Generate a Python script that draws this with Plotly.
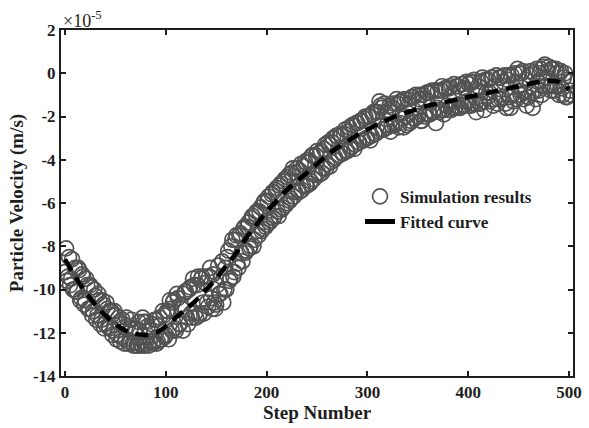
import plotly.graph_objects as go

# Simulation results (velocity in 1e-5 m/s)
# even steps 0, 2, ..., 502
sim_steps_even = list(range(0, 504, 2))
sim_velocity_even = [
    -9.2, -9.6, -8.5, -9.5, -10.0,
    -9.0, -10.1, -9.1, -10.4, -9.4,
    -10.5, -9.8, -10.9, -9.9, -11.0,
    -10.3, -11.2, -10.5, -11.4, -10.7,
    -11.6, -10.9, -11.8, -11.0, -11.9,
    -11.2, -12.1, -11.5, -12.2, -11.6,
    -12.3, -11.7, -12.4, -11.4, -12.6,
    -11.8, -12.6, -11.9, -12.6, -11.5,
    -12.5, -11.7, -12.4, -11.6, -12.4,
    -11.4, -12.4, -11.3, -12.3, -11.2,
    -12.1, -11.0, -10.5, -11.9, -10.5,
    -11.9, -10.4, -11.6, -10.9, -10.2,
    -10.1, -11.6, -9.9, -11.3, -9.8,
    -11.3, -9.4, -11.1, -9.4, -11.1,
    -9.4, -10.8, -9.0, -10.9, -10.6,
    -10.7, -8.9, -10.2, -8.7, -10.0,
    -10.0, -8.2, -9.5, -7.7, -9.2,
    -7.5, -9.0, -7.4, -8.7, -7.1,
    -8.2, -6.9, -8.0, -6.6, -7.7,
    -6.4, -7.5, -6.2, -7.2, -5.9,
    -7.0, -5.7, -6.8, -5.5, -6.6,
    -5.3, -6.6, -5.1, -6.2, -4.9,
    -6.0, -4.7, -5.8, -4.4, -5.5,
    -4.4, -5.5, -4.2, -5.2, -4.1,
    -5.2, -4.1, -5.0, -3.8, -4.7,
    -3.6, -4.7, -3.6, -4.4, -3.3,
    -4.2, -3.3, -4.1, -3.0, -3.9,
    -2.9, -3.8, -2.9, -3.7, -2.6,
    -3.6, -2.5, -3.4, -2.4, -3.3,
    -2.3, -3.2, -2.2, -3.1, -2.0,
    -3.0, -2.0, -2.9, -1.8, -2.8,
    -1.8, -1.3, -1.6, -2.6, -1.8,
    -2.5, -1.5, -2.4, -1.4, -2.3,
    -1.4, -2.3, -1.3, -2.5, -2.0,
    -1.2, -2.3, -1.1, -2.1, -1.0,
    -2.0, -1.0, -2.2, -1.2, -1.9,
    -0.9, -1.9, -0.8, -1.8, -2.3,
    -0.8, -1.7, -0.6, -1.9, -0.7,
    -1.7, -0.6, -1.6, -0.5, -1.5,
    -0.6, -1.6, -0.5, -1.5, -0.4,
    -1.5, -0.4, -1.4, -0.3, -1.8,
    -0.6, -1.4, -0.2, -1.7, -0.9,
    -0.3, -1.3, -0.2, -1.2, -0.1,
    -1.2, -0.2, -1.1, -0.1, -1.6,
    -0.1, -1.6, -1.0, 0.0, -1.2,
    0.0, -1.0, 0.1, -0.9, -1.5,
    -1.1, 0.1, -1.6, -0.8, 0.2,
    -0.8, 0.2, -0.6, 0.4, -0.2,
    0.3, -0.8, 0.2, -0.6, 0.0,
    -1.0, 0.1, -1.0, 0.0, -1.1,
    -0.4, -1.0,
]
# odd steps 1, 3, ..., 501
sim_steps_odd = list(range(1, 503, 2))
sim_velocity_odd = [
    -8.1, -9.4, -9.8, -8.6, -10.0,
    -10.1, -9.0, -10.5, -9.3, -10.7,
    -9.5, -10.9, -9.8, -11.2, -10.0,
    -11.4, -10.2, -11.6, -10.5, -11.8,
    -10.6, -11.7, -11.0, -12.1, -11.0,
    -12.3, -11.3, -12.4, -11.4, -12.5,
    -11.3, -12.5, -11.8, -12.5, -12.0,
    -12.6, -11.5, -12.5, -11.3, -12.6,
    -11.5, -12.6, -11.9, -12.5, -11.4,
    -12.5, -11.7, -12.3, -11.0, -12.2,
    -11.0, -12.3, -10.9, -10.6, -11.8,
    -10.2, -11.6, -10.7, -11.9, -10.1,
    -11.3, -10.0, -11.1, -9.5, -11.1,
    -9.8, -11.2, -9.5, -10.6, -9.7,
    -10.6, -9.4, -10.4, -9.3, -10.9,
    -9.8, -10.2, -9.4, -10.6, -9.0,
    -8.5, -9.6, -8.0, -9.4, -7.7,
    -8.8, -7.5, -8.3, -7.2, -8.3,
    -7.1, -8.1, -6.7, -8.0, -6.5,
    -7.3, -6.4, -7.3, -6.0, -7.1,
    -5.9, -6.9, -5.6, -6.7, -5.4,
    -6.4, -5.2, -6.3, -5.0, -6.1,
    -4.8, -5.9, -4.6, -5.7, -4.6,
    -5.4, -4.5, -5.4, -4.3, -5.2,
    -4.0, -5.1, -3.8, -4.9, -3.8,
    -4.6, -3.7, -4.6, -3.5, -4.4,
    -3.2, -4.3, -3.2, -4.0, -2.9,
    -3.8, -2.8, -3.7, -2.8, -3.6,
    -2.7, -3.5, -2.4, -3.5, -2.3,
    -3.2, -2.2, -3.1, -2.1, -3.0,
    -2.0, -3.1, -1.9, -2.8, -1.8,
    -2.7, -1.5, -2.6, -1.4, -2.4,
    -1.7, -2.7, -1.6, -2.4, -1.2,
    -2.5, -1.3, -2.1, -1.2, -2.4,
    -1.4, -2.2, -1.1, -2.1, -1.3,
    -1.2, -2.2, -1.0, -2.0, -0.9,
    -1.9, -0.9, -1.8, -0.8, -1.6,
    -1.8, -0.8, -1.7, -0.7, -1.5,
    -0.7, -1.7, -0.9, -1.6, -0.6,
    -1.6, -0.8, -1.5, -0.7, -1.3,
    -0.5, -1.5, -0.4, -1.4, -0.8,
    -1.4, -0.4, -1.3, -0.3, -1.1,
    -0.9, -0.2, -1.5, -0.6, -1.4,
    -0.2, -1.2, -0.4, -1.4, -0.3,
    -1.1, -0.1, -1.3, -0.4, 0.2,
    -0.8, 0.0, -1.2, -0.3, -1.1,
    -0.1, -0.9, 0.0, -1.2, -0.4,
    0.0, -1.0, 0.3, -0.6, 0.1,
    -0.6, 0.2, -0.8, 0.2, -0.6,
    0.0, -0.7, -0.2, -1.1, -0.3,
    -0.8,
]

# Fitted curve
fit_steps = list(range(0, 510, 10))
fit_velocity = [
    -8.6, -9.4, -10.1, -10.7, -11.2, -11.6, -11.9, -12.05, -12.1, -12.0,
    -11.7, -11.3, -10.9, -10.5, -10.0, -9.5, -8.9, -8.3, -7.6, -7.0,
    -6.4, -5.9, -5.4, -5.0, -4.6, -4.2, -3.8, -3.45, -3.15, -2.85,
    -2.6, -2.35, -2.15, -1.95, -1.8, -1.65, -1.5, -1.4, -1.3, -1.2,
    -1.1, -1.0, -0.9, -0.8, -0.7, -0.6, -0.5, -0.4, -0.35, -0.4,
    -0.75,
]

x_ticks = [0, 100, 200, 300, 400, 500]
y_ticks = [2, 0, -2, -4, -6, -8, -10, -12, -14]

font_family = "Liberation Serif"
ink = "#1e1e1e"

fig = go.Figure()
fig.add_trace(go.Scatter(
    x=sim_steps_even + sim_steps_odd,
    y=sim_velocity_even + sim_velocity_odd,
    mode="markers", name="<b>Simulation results</b>",
    marker=dict(symbol="circle-open", size=15, color="#525252",
                line=dict(width=1.7, color="#525252")),
))
fig.add_trace(go.Scatter(
    x=fit_steps, y=fit_velocity, mode="lines", name="<b>Fitted curve</b>",
    line=dict(color="black", width=4.5, dash="13px,8px", shape="spline"),
    showlegend=False,
))
# legend proxy for the fitted curve (solid short bar, as in the reference legend)
fig.add_trace(go.Scatter(
    x=[None], y=[None], mode="lines", name="<b>Fitted curve</b>",
    line=dict(color="black", width=5),
))

axis_common = dict(
    showgrid=False, zeroline=False, showline=True, linecolor=ink, linewidth=2,
    mirror="allticks", ticks="inside", ticklen=5, tickwidth=2, tickcolor=ink,
    tickfont=dict(family=font_family, size=17, color=ink),
)

fig.update_layout(
    width=589, height=428,
    margin=dict(l=61, r=7, t=30, b=52),
    paper_bgcolor="white", plot_bgcolor="white",
    font=dict(family=font_family, color=ink),
    xaxis=dict(range=[-4, 504], tickvals=x_ticks,
               ticktext=[f"<b>{v}</b>" for v in x_ticks],
               title=dict(text="<b>Step Number</b>", font=dict(family=font_family, size=19), standoff=4),
               **axis_common),
    yaxis=dict(range=[-14, 2], tickvals=y_ticks,
               ticktext=[f"<b>{v}</b>" for v in y_ticks],
               title=dict(text="<b>Particle Velocity (m/s)</b>", font=dict(family=font_family, size=19), standoff=4),
               **axis_common),
    legend=dict(x=0.584, y=0.57, xanchor="left", yanchor="top",
                bgcolor="rgba(0,0,0,0)", font=dict(family=font_family, size=17, color=ink),
                itemwidth=30),
    showlegend=True,
)
fig.add_annotation(
    x=0, y=1, xref="paper", yref="paper", xanchor="left", yanchor="bottom",
    text="×10<sup>-5</sup>", showarrow=False, yshift=-3,
    font=dict(family=font_family, size=18, color=ink),
)

fig.write_html("out.html")
